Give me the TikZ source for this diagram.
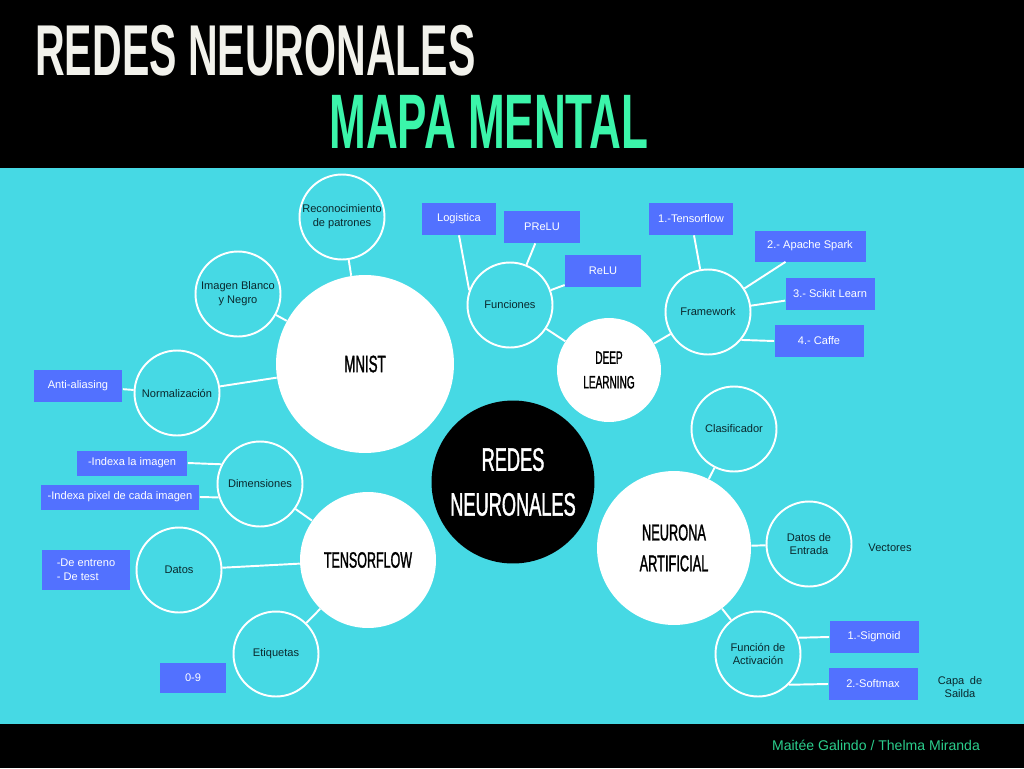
\documentclass[tikz,border=0pt]{standalone}
\usepackage{fontspec}
\setmainfont{Liberation Sans}
\newfontfamily\bebas[FakeStretch=0.57]{Liberation Sans}
\newfontfamily\bebasmid[FakeStretch=0.56,FakeBold=1.2]{Liberation Sans}
\usepackage{tikz}
\definecolor{MapaCyan}{RGB}{70,217,228}
\definecolor{MapaBlue}{RGB}{82,113,255}
\definecolor{MapaMint}{RGB}{59,245,170}
\definecolor{MapaFooter}{RGB}{43,205,140}
\definecolor{MapaInk}{RGB}{10,40,45}
\definecolor{MapaPaper}{RGB}{242,242,236}

\begin{document}
\begin{tikzpicture}[x=0.02cm,y=-0.02cm,
  topic/.style={circle,draw=white,line width=1.1pt,minimum size=1.7cm,inner sep=0pt,
    align=center,text=MapaInk,font=\fontsize{6.3}{7.9}\selectfont},
  hub/.style={circle,fill=white,inner sep=0pt,align=center,text=black},
  tag/.style={fill=MapaBlue,text=white,inner sep=0pt,align=center,
    font=\fontsize{6.3}{7.9}\selectfont},
  note/.style={align=center,text=MapaInk,font=\fontsize{6.3}{7.9}\selectfont},
  link/.style={draw=white,line width=1.1pt}
]
\useasboundingbox (0,0) rectangle (1024,768);
\fill[black] (0,0) rectangle (1024,768);
\fill[MapaCyan] (0,168) rectangle (1024,724);

\node[anchor=base west,text=MapaPaper,inner sep=0pt,
  font=\bebas\bfseries\fontsize{41}{41}\selectfont] (title) at (35,75) {REDES NEURONALES};
\node[anchor=base west,text=MapaMint,inner sep=0pt,
  font=\bebas\bfseries\fontsize{44}{44}\selectfont] (subtitle) at (329,148) {MAPA MENTAL};
\node[text=MapaFooter,font=\fontsize{8}{10}\selectfont] (authors) at (876,745)
  {Maitée Galindo / Thelma Miranda};

\node[hub,fill=black,text=white,minimum size=3.26cm,
  font=\bebasmid\fontsize{18.5}{25.5}\selectfont] (redes) at (513,482) {REDES\\NEURONALES};

\node[hub,minimum size=3.56cm,font=\bebasmid\fontsize{13.5}{16}\selectfont]
  (mnist) at (365,364) {MNIST};
\node[topic] (patrones) at (342,217) {Reconocimiento\\de patrones};
\node[topic] (blanconegro) at (238,294) {Imagen Blanco\\y Negro};
\node[topic] (normalizacion) at (177,393) {Normalización};
\node[tag,minimum width=1.78cm,minimum height=0.64cm] (antialiasing) at (78,386) {Anti-aliasing};

\node[hub,minimum size=2.08cm,font=\bebasmid\fontsize{10.2}{14}\selectfont]
  (deep) at (609,370) {DEEP\\LEARNING};
\node[topic] (funciones) at (510,305) {Funciones};
\node[tag,minimum width=1.5cm,minimum height=0.64cm] (logistica) at (459,219) {Logistica};
\node[tag,minimum width=1.52cm,minimum height=0.64cm] (prelu) at (542,227) {PReLU};
\node[tag,minimum width=1.52cm,minimum height=0.64cm] (relu) at (603,271) {ReLU};
\node[topic] (framework) at (708,312) {Framework};
\node[tag,minimum width=1.68cm,minimum height=0.64cm] (tensorflowlib) at (691,219) {1.-Tensorflow};
\node[tag,minimum width=2.22cm,minimum height=0.62cm] (spark) at (810,246) {2.- Apache Spark};
\node[tag,minimum width=1.78cm,minimum height=0.64cm] (scikit) at (830,294) {3.- Scikit Learn};
\node[tag,minimum width=1.78cm,minimum height=0.64cm] (caffe) at (819,341) {4.- Caffe};

\node[hub,minimum size=3.08cm,font=\bebasmid\fontsize{13}{17.6}\selectfont]
  (neurona) at (674,548) {NEURONA\\ARTIFICIAL};
\node[topic] (clasificador) at (734,429) {Clasificador};
\node[topic] (entrada) at (809,544) {Datos de\\Entrada};
\node[note] (vectores) at (890,548) {Vectores};
\node[topic] (activacion) at (758,654) {Función de\\Activación};
\node[tag,minimum width=1.78cm,minimum height=0.64cm] (sigmoid) at (874,637) {1.-Sigmoid};
\node[tag,minimum width=1.78cm,minimum height=0.64cm] (softmax) at (873,684) {2.-Softmax};
\node[note] (salida) at (960,687) {Capa\enspace de\\Sailda};

\node[hub,minimum size=2.72cm,font=\bebasmid\fontsize{12.7}{16}\selectfont]
  (tensorflow) at (368,560) {TENSORFLOW};
\node[topic] (dimensiones) at (260,484) {Dimensiones};
\node[tag,minimum width=2.22cm,minimum height=0.5cm] (indexaimagen) at (132,463) {-Indexa la imagen};
\node[tag,minimum width=3.18cm,minimum height=0.5cm] (indexapixel) at (120,497) {-Indexa pixel de cada imagen};
\node[topic] (datos) at (179,570) {Datos};
\node[tag,minimum width=1.78cm,minimum height=0.8cm,align=left] (conjuntos) at (86,570)
  {-De entreno\\- De test};
\node[topic] (etiquetas) at (276,654) {Etiquetas};
\node[tag,minimum width=1.32cm,minimum height=0.6cm] (digitos) at (193,678) {0-9};

\draw[link] (patrones) -- (mnist);
\draw[link] (blanconegro) -- (mnist);
\draw[link] (normalizacion) -- (mnist);
\draw[link] (antialiasing) -- (normalizacion);
\draw[link] (funciones) -- (deep);
\draw[link] (framework) -- (deep);
\draw[link] (logistica.south) -- (funciones.160);
\draw[link] (prelu) -- (funciones);
\draw[link] (relu) -- (funciones);
\draw[link] (tensorflowlib) -- (framework);
\draw[link] (spark) -- (framework);
\draw[link] (scikit) -- (framework);
\draw[link] (caffe.west) -- (framework.-40);
\draw[link] (clasificador) -- (neurona);
\draw[link] (entrada) -- (neurona);
\draw[link] (activacion) -- (neurona);
\draw[link] (activacion.22) -- (sigmoid.west);
\draw[link] (activacion.-45) -- (softmax.west);
\draw[link] (dimensiones) -- (tensorflow);
\draw[link] (datos) -- (tensorflow);
\draw[link] (etiquetas) -- (tensorflow);
\draw[link] (indexaimagen.east) -- (dimensiones.153);
\draw[link] (indexapixel.east) -- (dimensiones.198);
\end{tikzpicture}
\end{document}
